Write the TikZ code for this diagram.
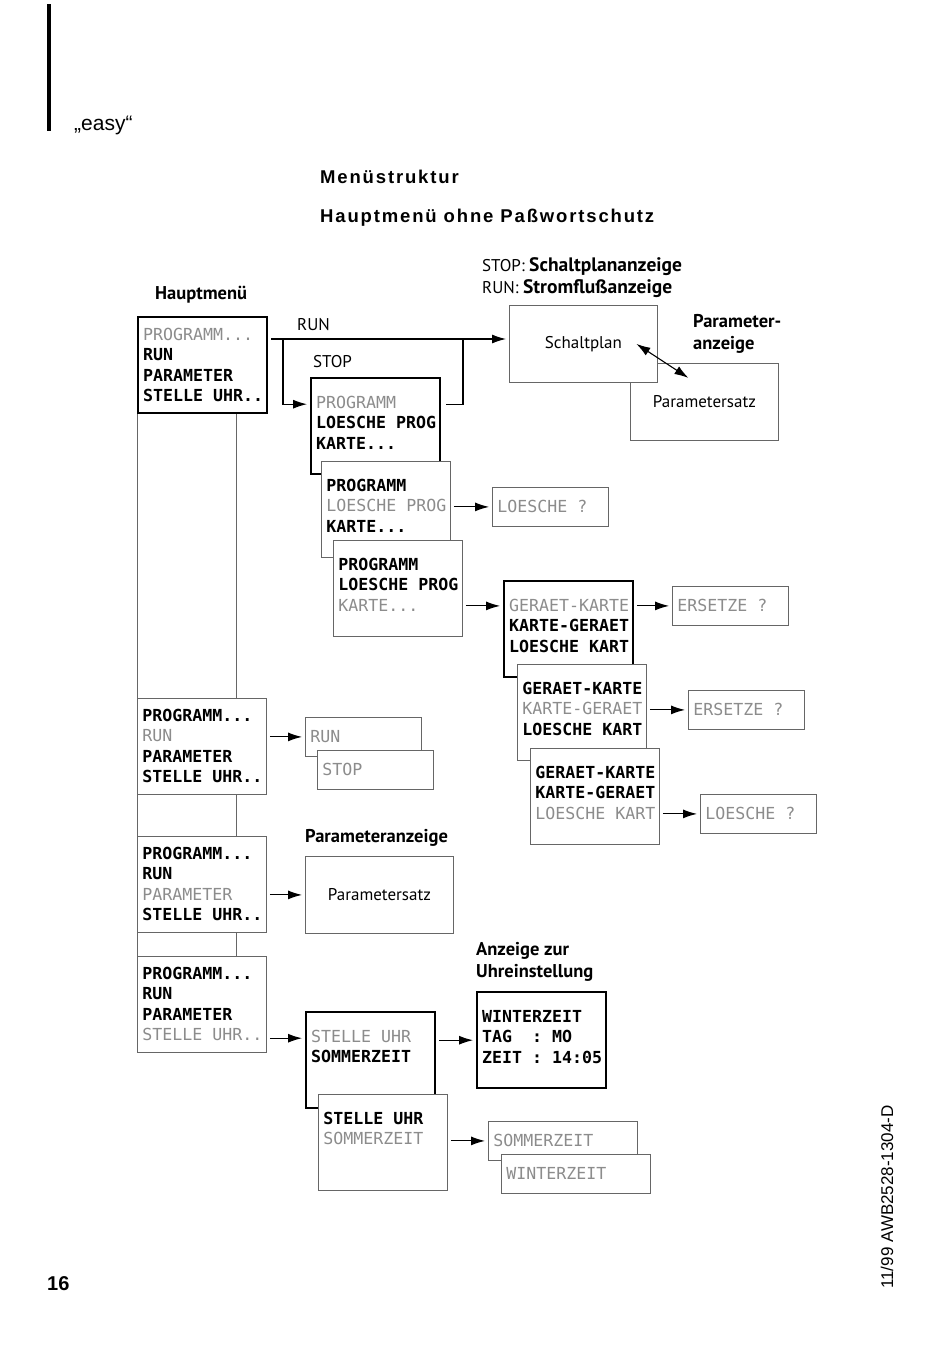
\documentclass[tikz,border=0pt]{standalone}
\usepackage{fontspec}
\setmainfont{Liberation Sans}
\newfontfamily\lcdfamily{DejaVu Sans Mono}
\newfontfamily\labelfamily{PT Sans}
\newfontfamily\spacedfamily{Liberation Sans}[LetterSpace=10]
\usetikzlibrary{arrows.meta}

\definecolor{dim}{gray}{0.55}
\definecolor{framegray}{gray}{0.4}

\newcommand{\lcdfont}{\lcdfamily\bfseries\fontsize{16.6}{20.5}\selectfont
    \hyphenpenalty=10000\exhyphenpenalty=10000}
\newcommand{\lcdsp}{\hspace*{10pt}}
\newcommand{\dimtext}[1]{\textcolor{dim}{\mdseries#1}}
\newcommand{\labelfont}{\labelfamily\fontsize{17}{22}\selectfont}
\newcommand{\boldfont}{\labelfamily\bfseries\fontsize{18.5}{22}\selectfont}

\tikzset{
    lcd/.style={draw=framegray, line width=0.8pt, fill=white, anchor=north west,
        inner xsep=5pt, inner ysep=0pt, text width=119pt, align=left, font=\lcdfont},
    menubox/.style={lcd, text height=23pt, text depth=73pt},
    progbox/.style={lcd, text height=30pt, text depth=66pt},
    msgbox/.style={lcd, text width=106pt, text height=25pt, text depth=14pt},
    widebox/.style={msgbox, text width=139pt},
    thickbox/.style={draw=black, line width=2.4pt},
    plainbox/.style={draw=framegray, line width=0.8pt, fill=white, anchor=north west,
        font=\labelfont, inner sep=0pt, minimum width=148pt, minimum height=77pt},
    plaintext/.style={font=\labelfont, anchor=west, inner sep=0pt, align=left},
    boldtext/.style={font=\boldfont, anchor=west, inner sep=0pt, align=left},
    arr/.style={-{Latex[length=14pt,width=9pt]}, line width=1.1pt, shorten <=3pt, shorten >=3pt},
    arrboth/.style={{Latex[length=14pt,width=9pt]}-{Latex[length=14pt,width=9pt]}, line width=1.1pt},
    conn/.style={line width=1.1pt},
    stack/.style={draw=framegray, line width=0.8pt}
}

\begin{document}
\begin{tikzpicture}[x=1pt, y=-1pt]
    \useasboundingbox (0,0) rectangle (950,1360);
    \fill[white] (0,0) rectangle (950,1360);

    \draw[line width=4pt] (49,4) -- (49,131);
    \node[font=\fontsize{21}{24}\selectfont, anchor=west, inner sep=0pt] (easy) at (74,125) {„easy“};
    \node[font=\spacedfamily\bfseries\fontsize{18.5}{22}\selectfont, anchor=west, inner sep=0pt] (title) at (320,177) {Menüstruktur};
    \node[font=\spacedfamily\bfseries\fontsize{18.5}{22}\selectfont, anchor=west, inner sep=0pt] (subtitle) at (320,218) {Hauptmenü ohne Paßwortschutz};
    \node[font=\bfseries\fontsize{20}{24}\selectfont, anchor=west, inner sep=0pt] (page) at (47,1284) {16};
    \node[font=\fontsize{17}{20}\selectfont, rotate=90, inner sep=0pt] (docno) at (887,1197) {11/99 AWB2528-1304-D};

    \node[boldtext] (hm) at (155,295) {Hauptmenü};
    \node[plaintext] (modes) at (482,278) {STOP: {\boldfont\fontsize{19.5}{22}\selectfont Schaltplananzeige}\\RUN: {\boldfont\fontsize{19.5}{22}\selectfont Stromflußanzeige}};
    \node[boldtext] (pa1) at (693,334) {Parameter-\\anzeige};
    \node[plaintext] (runlbl) at (297,325) {RUN};
    \node[plaintext] (stoplbl) at (313,362) {STOP};
    \node[boldtext] (pa2) at (305,838) {Parameteranzeige};
    \node[boldtext] (uhr) at (476,962) {Anzeige zur\\Uhreinstellung};

    % Hauptmenue
    \node[menubox, thickbox] (pm1) at (137,316) {\dimtext{PROGRAMM...}\\RUN\\PARAMETER\\STELLE\lcdsp UHR..};
    \node[menubox] (pm2) at (137,698) {PROGRAMM...\\\dimtext{RUN}\\PARAMETER\\STELLE\lcdsp UHR..};
    \node[menubox] (pm3) at (137,836) {PROGRAMM...\\RUN\\\dimtext{PARAMETER}\\STELLE\lcdsp UHR..};
    \node[menubox] (pm4) at (137,956) {PROGRAMM...\\RUN\\PARAMETER\\\dimtext{STELLE\lcdsp UHR..}};
    \draw[stack] (pm1.south west) -- (pm2.north west);
    \draw[stack] (pm2.south west) -- (pm3.north west);
    \draw[stack] (pm3.south west) -- (pm4.north west);
    \draw[stack] ([xshift=99pt]pm1.south west) -- ([xshift=99pt]pm2.north west);
    \draw[stack] ([xshift=99pt]pm2.south west) -- ([xshift=99pt]pm3.north west);
    \draw[stack] ([xshift=99pt]pm3.south west) -- ([xshift=99pt]pm4.north west);

    % Schaltplan
    \node[plainbox] (ps1) at (630,363) {Parametersatz};
    \node[plainbox] (sp) at (509,305) {Schaltplan};
    \draw[arrboth] ([xshift=53pt]sp.center) -- ([xshift=-16pt, yshift=24pt]ps1.center);

    % Programm
    \node[progbox, thickbox] (pg1) at (310,377) {\dimtext{PROGRAMM}\\LOESCHE\lcdsp PROG\\KARTE...};
    \node[progbox] (pg2) at (321,461) {PROGRAMM\\\dimtext{LOESCHE\lcdsp PROG}\\KARTE...};
    \node[progbox] (pg3) at (333,540) {PROGRAMM\\LOESCHE\lcdsp PROG\\\dimtext{KARTE...}};
    \node[msgbox] (lo1) at (492,487) {\dimtext{LOESCHE\lcdsp ?}};

    \coordinate (runfork) at (283,339);
    \coordinate (runjoin) at (463,339);
    \draw[arr] (pm1.east |- runfork) -- (sp.west |- runfork);
    \draw[arr, shorten <=0pt] (runfork) |- ([yshift=22pt]pg1.west);
    \draw[conn, shorten <=5pt] ([yshift=22pt]pg1.east) -| (runjoin);
    \draw[arr] (pg2.east |- lo1) -- (lo1.west);

    % Karte
    \node[progbox, thickbox] (gk1) at (503,580) {\dimtext{GERAET-KARTE}\\KARTE-GERAET\\LOESCHE\lcdsp KART};
    \node[msgbox] (er1) at (672,586) {\dimtext{ERSETZE\lcdsp ?}};
    \node[progbox] (gk2) at (517,664) {GERAET-KARTE\\\dimtext{KARTE-GERAET}\\LOESCHE\lcdsp KART};
    \node[msgbox] (er2) at (688,690) {\dimtext{ERSETZE\lcdsp ?}};
    \node[progbox] (gk3) at (530,748) {GERAET-KARTE\\KARTE-GERAET\\\dimtext{LOESCHE\lcdsp KART}};
    \node[msgbox] (lo2) at (700,794) {\dimtext{LOESCHE\lcdsp ?}};
    \draw[arr] (pg3.east |- er1) -- (gk1.west |- er1);
    \draw[arr] (gk1.east |- er1) -- (er1.west);
    \draw[arr] (gk2.east |- er2) -- (er2.west);
    \draw[arr] (gk3.east |- lo2) -- (lo2.west);

    % Run/Stop
    \node[msgbox] (rn) at (305,717) {\dimtext{RUN}};
    \node[msgbox] (st) at (317,750) {\dimtext{STOP}};
    \draw[arr] (pm2.east |- rn) -- (rn.west);

    % Parameter
    \node[plainbox] (ps2) at (305,856) {Parametersatz};
    \draw[arr] (pm3.east |- ps2) -- (ps2.west);

    % Uhr
    \node[progbox, thickbox] (su1) at (305,1011) {\dimtext{STELLE\lcdsp UHR}\\SOMMERZEIT};
    \node[progbox, thickbox] (wz) at (476,991) {WINTERZEIT\\TAG\lcdsp\lcdsp:\lcdsp MO\\ZEIT\lcdsp:\lcdsp 14:05};
    \node[progbox] (su2) at (318,1094) {STELLE\lcdsp UHR\\\dimtext{SOMMERZEIT}};
    \node[widebox] (sz) at (488,1121) {\dimtext{SOMMERZEIT}};
    \node[widebox] (wz2) at (501,1154) {\dimtext{WINTERZEIT}};
    \coordinate (suin) at ([yshift=22pt]su1.west);
    \draw[arr] (pm4.east |- suin) -- (suin);
    \draw[arr] (su1.east |- wz) -- (wz.west);
    \draw[arr] (su2.east |- sz) -- (sz.west);
\end{tikzpicture}
\end{document}
